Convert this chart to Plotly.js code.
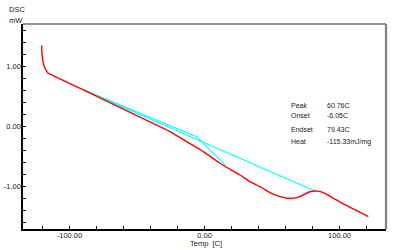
<!DOCTYPE html>
<html>
<head>
<meta charset="utf-8">
<script src="https://cdn.plot.ly/plotly-3.0.1.min.js"></script>
<style>
  html, body { margin: 0; padding: 0; background: #ffffff; }
  #chart { width: 396px; height: 250px; }
</style>
</head>
<body>
<div id="chart"></div>
<script>
// DSC curve (temperature in C, heat flow in mW)
var dscTemp = [-120.5, -120.4, -119.6, -118.1, -115.7, -112.0, -100, -90, -77.4, -60, -40, -25.6,
               -13.2, -0.9, 11.5, 26.3, 33.7, 41.1, 48.5, 55.9, 61.0, 66.0, 70.0, 74.4, 78.0,
               81.9, 85.0, 88.0, 94.2, 102.8, 112.7, 121.3];
var dscValue = [1.35, 1.223, 1.083, 0.973, 0.89, 0.85, 0.72, 0.615, 0.48, 0.29, 0.075, -0.083,
                -0.25, -0.417, -0.61, -0.805, -0.917, -1.0, -1.1, -1.167, -1.193, -1.19, -1.17, -1.122, -1.085,
                -1.072, -1.078, -1.1, -1.177, -1.288, -1.4, -1.5];

// Onset tangent construction
var onsetTemp = [-90, -5.8, 15.2];
var onsetValue = [0.62, -0.167, -0.638];

// Integration baseline
var baseTemp = [-90, 81.9];
var baseValue = [0.615, -1.072];

// Tick labels
var xTickVals = [-100, 0, 100];
var xTickText = ['-100.00', '0.00', '100.00'];
var yTickVals = [-1, 0, 1];
var yTickText = ['-1.00', '0.00', '1.00'];

// Result table
var resultLabels = ['Peak', 'Onset', 'Endset', 'Heat'];
var resultValues = ['60.76C', '-6.05C', '79.43C', '-115.33mJ/mg'];

var FONT = 'Liberation Sans, Arial, sans-serif';
var TXT = '#222222';

var traces = [
  { x: baseTemp, y: baseValue, mode: 'lines', line: { color: '#00ffff', width: 1.2 }, hoverinfo: 'skip' },
  { x: onsetTemp, y: onsetValue, mode: 'lines', line: { color: '#00ffff', width: 1.2 }, hoverinfo: 'skip' },
  { x: dscTemp, y: dscValue, mode: 'lines', line: { color: '#ff0000', width: 1.4, shape: 'spline', smoothing: 0.6 }, hoverinfo: 'skip' }
];

var rowY = [105.7, 116, 129.3, 141.7];
var annotations = [];
// plot area: left 23, top 24, width 363, height 205
function px2paperX(px) { return (px - 23) / 363; }
function px2paperY(py) { return (229 - py) / 205; }
for (var i = 0; i < resultLabels.length; i++) {
  annotations.push({ xref: 'paper', yref: 'paper', x: px2paperX(289), y: px2paperY(rowY[i]),
    xanchor: 'left', yanchor: 'middle', text: resultLabels[i], showarrow: false,
    font: { family: FONT, size: 7, color: TXT } });
  annotations.push({ xref: 'paper', yref: 'paper', x: px2paperX(325), y: px2paperY(rowY[i]),
    xanchor: 'left', yanchor: 'middle', text: resultValues[i], showarrow: false,
    font: { family: FONT, size: 7, color: TXT } });
}
annotations.push({ xref: 'paper', yref: 'paper', x: px2paperX(7), y: px2paperY(10),
  xanchor: 'left', yanchor: 'middle', text: 'DSC', showarrow: false,
  font: { family: FONT, size: 7.5, color: TXT } });
annotations.push({ xref: 'paper', yref: 'paper', x: px2paperX(7), y: px2paperY(21),
  xanchor: 'left', yanchor: 'middle', text: 'mW', showarrow: false,
  font: { family: FONT, size: 7.5, color: TXT } });
// x axis title placed under the tick labels
annotations.push({ xref: 'paper', yref: 'paper', x: px2paperX(206), y: px2paperY(243.5),
  xanchor: 'center', yanchor: 'middle', text: 'Temp  [C]', showarrow: false,
  font: { family: FONT, size: 7.5, color: TXT } });

var layout = {
  width: 396, height: 250,
  margin: { l: 23, r: 10, t: 24, b: 21, pad: 0 },
  paper_bgcolor: '#ffffff', plot_bgcolor: '#ffffff',
  showlegend: false,
  xaxis: {
    range: [-134.4, 134.4], showgrid: false, zeroline: false,
    showline: true, linecolor: '#000000', linewidth: 1.6,
    tickmode: 'array', tickvals: xTickVals, ticktext: xTickText,
    ticks: 'inside', ticklen: 3, tickcolor: '#000000', tickwidth: 1,
    ticklabelstandoff: -2,
    minor: { tickmode: 'linear', tick0: 0, dtick: 20, ticks: 'inside', ticklen: 3, tickcolor: '#000000', tickwidth: 1 },
    tickfont: { family: FONT, size: 7.5, color: TXT }
  },
  yaxis: {
    range: [-1.705, 1.71], showgrid: false, zeroline: false,
    showline: true, linecolor: '#000000', linewidth: 1.6,
    tickmode: 'array', tickvals: yTickVals, ticktext: yTickText,
    ticks: 'inside', ticklen: 3, tickcolor: '#000000', tickwidth: 1,
    ticklabelstandoff: -1,
    minor: { tickmode: 'linear', tick0: 0, dtick: 0.2, ticks: 'inside', ticklen: 3, tickcolor: '#000000', tickwidth: 1 },
    tickfont: { family: FONT, size: 7.5, color: TXT }
  },
  shapes: [
    { type: 'line', xref: 'paper', yref: 'paper', x0: 0, x1: 1, y0: 1, y1: 1, line: { color: '#6e6e6e', width: 1.6 } },
    { type: 'line', xref: 'paper', yref: 'paper', x0: 1, x1: 1, y0: 0, y1: 1, line: { color: '#808080', width: 2.2 } }
  ],
  annotations: annotations
};

Plotly.newPlot('chart', traces, layout, { staticPlot: true, displayModeBar: false });
</script>
</body>
</html>
